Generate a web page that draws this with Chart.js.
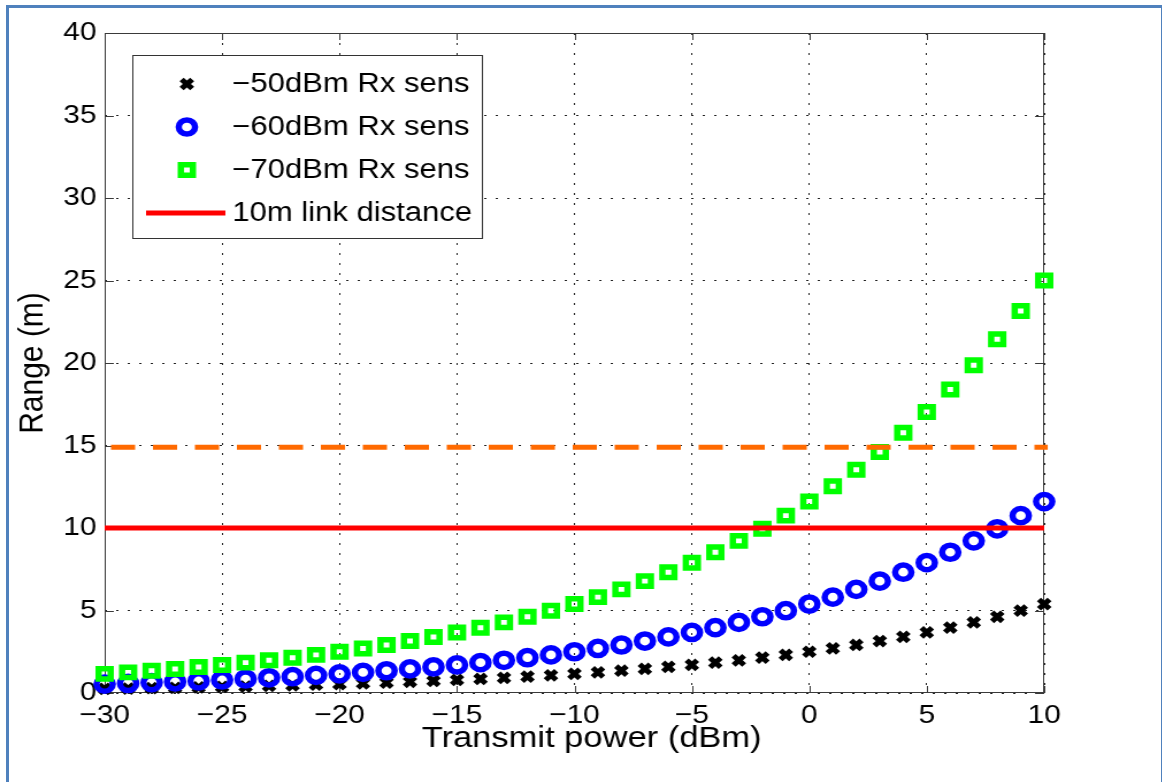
<!DOCTYPE html>
<html>
<head>
<meta charset="utf-8">
<title>Range vs transmit power</title>
<script src="https://cdn.jsdelivr.net/npm/chart.js@4.4.1/dist/chart.umd.min.js"></script>
<style>
    html, body { margin: 0; padding: 0; background: #fff; overflow: hidden; }
    #frame {
        position: absolute; left: 6px; top: 5px; width: 1152px; height: 800px;
        border-left: 3px solid #4f81bd; border-top: 3px solid #4f81bd; border-right: 1px solid #4f81bd;
    }
    /* the original figure is stretched a little horizontally */
    #wrap {
        position: absolute; left: 0; top: 0; width: 1010px; height: 782px;
        transform: scaleX(1.15); transform-origin: 0 0;
    }
</style>
</head>
<body>
<div id="frame"></div>
<div id="wrap"><canvas id="rangeChart"></canvas></div>
<script>
// --- data ---
const xPower = [-30, -29, -28, -27, -26, -25, -24, -23, -22, -21, -20, -19, -18, -17, -16, -15, -14, -13, -12, -11,
    -10, -9, -8, -7, -6, -5, -4, -3, -2, -1, 0, 1, 2, 3, 4, 5, 6, 7, 8, 9, 10];

const rangeRx50 = [0.25, 0.27, 0.29, 0.31, 0.34, 0.37, 0.39, 0.43, 0.46, 0.50, 0.54, 0.58, 0.63, 0.68, 0.73, 0.79,
    0.85, 0.92, 0.99, 1.07, 1.16, 1.25, 1.35, 1.46, 1.58, 1.70, 1.84, 1.98, 2.14, 2.31, 2.50, 2.70, 2.91, 3.15, 3.40,
    3.67, 3.96, 4.28, 4.62, 4.99, 5.39];

const rangeRx60 = [0.54, 0.58, 0.63, 0.68, 0.73, 0.79, 0.85, 0.92, 0.99, 1.07, 1.16, 1.25, 1.35, 1.46, 1.58, 1.70,
    1.84, 1.98, 2.14, 2.31, 2.50, 2.70, 2.91, 3.15, 3.40, 3.67, 3.96, 4.28, 4.62, 4.99, 5.39, 5.81, 6.28, 6.78, 7.32,
    7.90, 8.53, 9.22, 9.95, 10.75, 11.60];

const rangeRx70 = [1.16, 1.25, 1.35, 1.46, 1.58, 1.70, 1.84, 1.98, 2.14, 2.31, 2.50, 2.70, 2.91, 3.15, 3.40, 3.67,
    3.96, 4.28, 4.62, 4.99, 5.39, 5.81, 6.28, 6.78, 7.32, 7.90, 8.53, 9.22, 9.95, 10.75, 11.60, 12.53, 13.53, 14.61,
    15.77, 17.03, 18.39, 19.86, 21.44, 23.15, 25.00];

const linkX = [-30, 10];
const linkRange = [10, 10];
const dashX = [-30, 10.15];
const dashRange = [14.9, 14.9];

const seriesLabels = ['\u221250dBm Rx sens', '\u221260dBm Rx sens', '\u221270dBm Rx sens', '10m link distance'];
const xTitle = 'Transmit power (dBm)';
const yTitle = 'Range (m)';

const chartFont = "'Liberation Sans', Arial, sans-serif";

function toPoints(xs, ys) {
    return xs.map((x, i) => ({ x: x, y: ys[i] }));
}

function minusLabel(v) {
    return v < 0 ? '\u2212' + Math.abs(v) : String(v);
}

// axes box + inward tick marks (matlab style)
const boxTicks = {
    id: 'boxTicks',
    beforeDatasetsDraw(chart) {
        const { ctx, chartArea: a, scales: { x, y } } = chart;
        ctx.save();
        ctx.strokeStyle = '#3a3a3a';
        ctx.lineWidth = 1;
        ctx.strokeRect(a.left + 0.5, a.top + 0.5, a.width - 1, a.height - 1);
        ctx.beginPath();
        x.ticks.forEach(t => {
            const px = Math.round(x.getPixelForValue(t.value)) + 0.5;
            ctx.moveTo(px, a.bottom); ctx.lineTo(px, a.bottom - 7);
            ctx.moveTo(px, a.top); ctx.lineTo(px, a.top + 7);
        });
        y.ticks.forEach(t => {
            const py = Math.round(y.getPixelForValue(t.value)) + 0.5;
            ctx.moveTo(a.left, py); ctx.lineTo(a.left + 8, py);
            ctx.moveTo(a.right, py); ctx.lineTo(a.right - 8, py);
        });
        ctx.stroke();
        ctx.restore();
    }
};

// legend box inside the plot, plus the x title (sits a bit right of centre in the original)
const legendBox = {
    id: 'legendBox',
    afterDraw(chart) {
        const ctx = chart.ctx;
        const rows = [84, 127, 170, 213];
        ctx.save();
        ctx.fillStyle = '#fff';
        ctx.fillRect(115, 55, 305, 184);
        ctx.strokeStyle = '#333';
        ctx.lineWidth = 1;
        ctx.strokeRect(115.5, 55.5, 304, 183);
        seriesLabels.forEach((label, i) => {
            const ds = chart.data.datasets[i];
            const y = rows[i];
            if (ds.showLine) {
                ctx.strokeStyle = ds.borderColor;
                ctx.lineWidth = ds.borderWidth;
                ctx.setLineDash([]);
                ctx.beginPath();
                ctx.moveTo(127, y);
                ctx.lineTo(196, y);
                ctx.stroke();
            } else {
                ctx.strokeStyle = ds.pointBorderColor;
                ctx.fillStyle = 'rgba(0,0,0,0)';
                ctx.lineWidth = ds.pointBorderWidth;
                Chart.helpers.drawPoint(ctx, {
                    pointStyle: ds.pointStyle,
                    radius: ds.pointRadius,
                    borderWidth: ds.pointBorderWidth,
                    rotation: 0
                }, 162.5, y);
            }
            ctx.fillStyle = '#000';
            ctx.font = '27px ' + chartFont;
            ctx.textAlign = 'left';
            ctx.textBaseline = 'middle';
            ctx.fillText(label, 202, y + 1);
        });

        const a = chart.chartArea;
        ctx.fillStyle = '#000';
        ctx.font = '30px ' + chartFont;
        ctx.textAlign = 'center';
        ctx.textBaseline = 'middle';
        ctx.fillText(xTitle, (a.left + a.right) / 2 + 15, 739);
        ctx.restore();
    }
};

const ctx = document.getElementById('rangeChart').getContext('2d');
const rangeChart = new Chart(ctx, {
    type: 'scatter',
    data: {
        datasets: [{
            label: seriesLabels[0],
            data: toPoints(xPower, rangeRx50),
            pointStyle: 'crossRot',
            pointRadius: 6.5,
            pointBorderWidth: 5,
            pointBorderColor: '#000000',
            pointBackgroundColor: 'rgba(0,0,0,0)',
            clip: false,
            order: 5
        }, {
            label: seriesLabels[1],
            data: toPoints(xPower, rangeRx60),
            pointStyle: 'circle',
            pointRadius: 7.1,
            pointBorderWidth: 5.5,
            pointBorderColor: '#0000ff',
            pointBackgroundColor: 'rgba(0,0,0,0)',
            clip: false,
            order: 4
        }, {
            label: seriesLabels[2],
            data: toPoints(xPower, rangeRx70),
            pointStyle: 'rect',
            pointRadius: 7.4,
            pointBorderWidth: 5.5,
            pointBorderColor: '#00ff00',
            pointBackgroundColor: 'rgba(0,0,0,0)',
            clip: false,
            order: 3
        }, {
            label: seriesLabels[3],
            data: toPoints(linkX, linkRange),
            showLine: true,
            pointRadius: 0,
            borderColor: '#ff0000',
            borderWidth: 5,
            clip: false,
            order: 1
        }, {
            label: 'dashed',
            data: toPoints(dashX, dashRange),
            showLine: true,
            pointRadius: 0,
            borderColor: '#ff6a00',
            borderWidth: 5,
            borderDash: [21, 15.5],
            borderDashOffset: 31,
            clip: false,
            order: 2
        }]
    },
    options: {
        responsive: true,
        maintainAspectRatio: false,
        animation: false,
        events: [],
        layout: {
            padding: { left: 0, top: 33, right: 102, bottom: 0 }
        },
        scales: {
            x: {
                type: 'linear',
                min: -30,
                max: 10,
                afterFit: (s) => { s.height = 89; },
                ticks: {
                    stepSize: 5,
                    color: '#000',
                    padding: 7,
                    maxRotation: 0,
                    font: { family: chartFont, size: 26 },
                    callback: minusLabel
                },
                grid: { color: '#222', lineWidth: 1, drawTicks: false },
                border: { display: false, dash: [2, 8] },
                title: { display: false }
            },
            y: {
                type: 'linear',
                min: 0,
                max: 40,
                afterFit: (s) => { s.width = 91; },
                ticks: {
                    stepSize: 5,
                    color: '#000',
                    padding: 7,
                    font: { family: chartFont, size: 26 },
                    callback: minusLabel
                },
                grid: { color: '#222', lineWidth: 1, drawTicks: false },
                border: { display: false, dash: [2, 8] },
                title: {
                    display: true,
                    text: yTitle,
                    color: '#000',
                    font: { family: chartFont, size: 30 },
                    padding: { top: 11, bottom: 0 }
                }
            }
        },
        plugins: {
            legend: { display: false },
            tooltip: { enabled: false }
        }
    },
    plugins: [boxTicks, legendBox]
});
</script>
</body>
</html>
